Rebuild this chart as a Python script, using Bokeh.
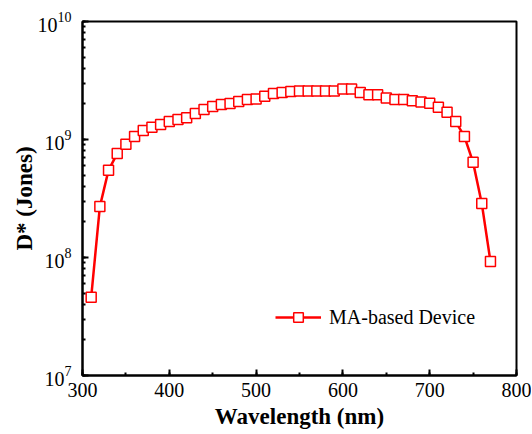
from bokeh.plotting import figure
from bokeh.models import SingleIntervalTicker, LogTicker, Range1d
from bokeh.embed import file_html
from bokeh.resources import INLINE

wavelength = [310, 320, 330, 340, 350, 360, 370, 380, 390, 400,
              410, 420, 430, 440, 450, 460, 470, 480, 490, 500,
              510, 520, 530, 540, 550, 560, 570, 580, 590, 600,
              610, 620, 630, 640, 650, 660, 670, 680, 690, 700,
              710, 720, 730, 740, 750, 760, 770]
dstar = [4.6e7, 2.7e8, 5.5e8, 7.6e8, 9.1e8, 1.06e9, 1.19e9, 1.27e9, 1.34e9, 1.42e9,
         1.48e9, 1.53e9, 1.66e9, 1.80e9, 1.90e9, 1.98e9, 2.02e9, 2.10e9, 2.18e9, 2.20e9,
         2.32e9, 2.45e9, 2.50e9, 2.55e9, 2.58e9, 2.58e9, 2.58e9, 2.58e9, 2.58e9, 2.68e9,
         2.68e9, 2.50e9, 2.40e9, 2.40e9, 2.25e9, 2.18e9, 2.18e9, 2.13e9, 2.08e9, 2.03e9,
         1.88e9, 1.70e9, 1.42e9, 1.06e9, 6.4e8, 2.87e8, 9.25e7]
series_label = "MA-based Device"
x_label = "Wavelength (nm)"
y_label = "D* (Jones)"

FONT = "Liberation Serif"
RED = "#ff0000"

p = figure(width=531, height=434, y_axis_type="log",
           x_range=Range1d(300, 800), y_range=Range1d(1e7, 1e10),
           output_backend="svg", toolbar_location=None,
           min_border_left=82, min_border_right=15, min_border_top=21, min_border_bottom=59)

p.line(wavelength, dstar, line_color=RED, line_width=2.5, legend_label=series_label)
p.scatter(wavelength, dstar, marker="square", size=10, line_color=RED, line_width=1.5,
          fill_color="white", legend_label=series_label)

p.grid.visible = False
p.outline_line_color = "black"
p.outline_line_width = 2

xa = p.xaxis[0]
xa.ticker = SingleIntervalTicker(interval=100, num_minor_ticks=2)
ya = p.yaxis[0]
ya.ticker = LogTicker(num_minor_ticks=10)

for ax in (xa, ya):
    ax.axis_line_width = 2
    ax.axis_line_color = "black"
    ax.major_tick_in = 6
    ax.major_tick_out = 0
    ax.minor_tick_in = 3
    ax.minor_tick_out = 0
    ax.major_tick_line_width = 2
    ax.minor_tick_line_width = 2
    ax.major_label_text_font = FONT
    ax.major_label_text_font_size = "20px"
    ax.major_label_text_color = "black"
    ax.axis_label_text_font = FONT
    ax.axis_label_text_font_size = "23px"
    ax.axis_label_text_font_style = "bold"
    ax.axis_label_text_color = "black"

xa.axis_label = x_label
ya.axis_label = y_label
xa.major_label_standoff = 7
xa.axis_label_standoff = 4
ya.major_label_standoff = 11
ya.axis_label_standoff = -2

lg = p.legend[0]
lg.location = (193, 46)
lg.padding = 0
lg.margin = 0
lg.border_line_color = None
lg.background_fill_alpha = 0
lg.glyph_width = 46
lg.glyph_height = 24
lg.label_standoff = 8
lg.label_text_font = FONT
lg.label_text_font_size = "20px"
lg.label_text_color = "black"

open("out.html", "w").write(file_html(p, INLINE))
